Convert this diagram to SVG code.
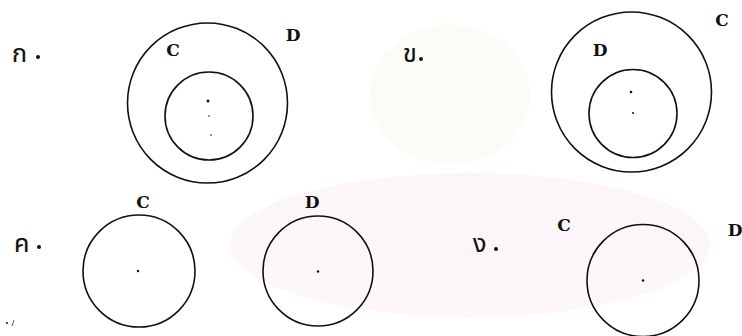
<svg xmlns="http://www.w3.org/2000/svg" width="742" height="336" viewBox="0 0 742 336">
<style>
.c{fill:none;stroke:#111;stroke-width:1.6}
.l{font-family:"DejaVu Serif","Liberation Serif",serif;font-weight:bold;font-size:17px;fill:#111}
.t{font-family:"Noto Sans Thai","Loma","Garuda","Noto Sans","DejaVu Sans",sans-serif;font-size:25px;fill:#111;stroke:#111;stroke-width:0.2}
.d{fill:#111}
</style>
<g id="watermark" opacity="0.3">
<ellipse cx="470" cy="245" rx="240" ry="72" fill="#fbe4ea"/>
<ellipse cx="450" cy="95" rx="80" ry="70" fill="#faf4e4"/>
</g>
<g id="panel-a">
<text class="t" x="12" y="62">ก</text><circle class="d" cx="38" cy="57" r="2"/>
<circle class="c" cx="207.5" cy="103" r="80"/>
<circle class="c" cx="209" cy="116" r="44"/>
<text class="l" x="173" y="56" text-anchor="middle">C</text>
<text class="l" x="293" y="41" text-anchor="middle">D</text>
<circle class="d" cx="208" cy="101" r="1.5"/>
<circle class="d" cx="209" cy="116" r="0.8"/>
<circle class="d" cx="211" cy="135" r="0.8"/>
</g>
<g id="panel-b">
<text class="t" x="403" y="62">ข</text><circle class="d" cx="421" cy="59" r="2"/>
<circle class="c" cx="631.5" cy="92" r="80"/>
<circle class="c" cx="633" cy="113.5" r="44"/>
<text class="l" x="600" y="56" text-anchor="middle">D</text>
<text class="l" x="722" y="26" text-anchor="middle">C</text>
<circle class="d" cx="631" cy="92" r="1.3"/>
<circle class="d" cx="633" cy="113" r="1"/>
</g>
<g id="panel-c">
<text class="t" x="14" y="252">ค</text><circle class="d" cx="39" cy="247" r="2"/>
<circle class="c" cx="139" cy="271" r="56"/>
<circle class="c" cx="318" cy="271" r="55"/>
<text class="l" x="143" y="208" text-anchor="middle">C</text>
<text class="l" x="312" y="208" text-anchor="middle">D</text>
<circle class="d" cx="138" cy="271" r="1.2"/>
<circle class="d" cx="318" cy="271.5" r="1.2"/>
<circle class="d" cx="7" cy="323" r="1"/>
<path d="M14 320 L12 326" stroke="#333" stroke-width="0.8"/>
</g>
<g id="panel-d">
<text class="t" x="473" y="252">ง</text><circle class="d" cx="496" cy="249" r="2"/>
<circle class="c" cx="643" cy="280.5" r="56"/>
<text class="l" x="564" y="231" text-anchor="middle">C</text>
<text class="l" x="735" y="236" text-anchor="middle">D</text>
<circle class="d" cx="643" cy="280.5" r="1.2"/>
</g>
<g id="connectors"></g>
</svg>
